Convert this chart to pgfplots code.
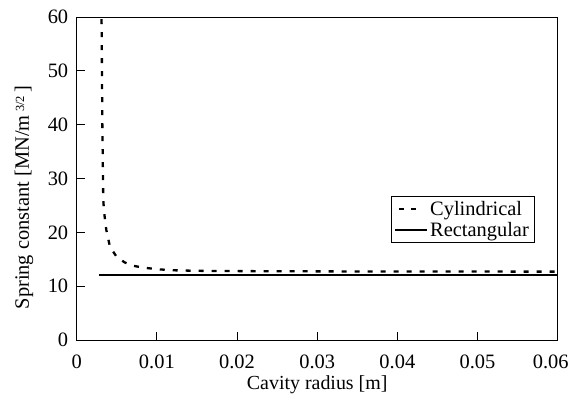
\documentclass[border=0pt]{standalone}
\usepackage{pgfplots}
\pgfplotsset{compat=1.18}
\usepackage{fontspec}
\setmainfont{Liberation Serif}
\begin{document}
\begin{tikzpicture}
\begin{axis}[
  scale only axis,
  width=481bp, height=323bp,
  xmin=0, xmax=0.06, ymin=0, ymax=60,
  xtick={0,0.01,0.02,0.03,0.04,0.05,0.06},
  xticklabels={0,0.01,0.02,0.03,0.04,0.05,\hspace*{-14bp}0.06},
  ytick={0,10,20,30,40,50,60},
  scaled x ticks=false,
  tick align=inside,
  xtick pos=left, ytick pos=left,
  major tick length=8bp,
  axis line style={line width=0.9bp},
  tick style={line width=0.8bp, black},
  /pgf/number format/assume math mode=true,
  tick label style={font=\fontsize{20.5}{24}\selectfont},
  xticklabel style={anchor=center, yshift=-22bp},
  yticklabel style={anchor=east, xshift=-5bp},
  xlabel={Cavity radius [m]},
  xlabel style={font=\fontsize{20}{24}\selectfont, at={(axis description cs:0.5,-0.139)}, anchor=center},
  ylabel={Spring constant [MN/m\,\raisebox{0.5ex}{\fontsize{12.5}{14}\selectfont 3/2}\,]},
  ylabel style={font=\fontsize{20.5}{24}\selectfont, at={(axis description cs:-0.1096,0.441)}, anchor=center},
  legend style={at={(0.951,0.446)}, anchor=north east, font=\fontsize{20.5}{24}\selectfont, draw=black, line width=0.6bp, inner sep=3bp, row sep=1bp},
  legend cell align=left,
  clip=true,
]
\addplot[black, line width=2.3bp, dash pattern=on 5bp off 8bp,
  legend image code/.code={\draw[black, line width=2.3bp] (4bp,0bp) -- (9bp,0bp) (16bp,0bp) -- (21bp,0bp);}] coordinates {
(0.00308,62) (0.00310,60) (0.00315,50) (0.00320,40) (0.00328,30) (0.00331,26)
(0.00344,23.5) (0.00370,20.4) (0.00415,17.3) (0.0050,15.4) (0.0060,14.4)
(0.0070,13.8) (0.0083,13.45) (0.010,13.15) (0.012,12.95) (0.015,12.85)
(0.020,12.8) (0.030,12.75) (0.040,12.72) (0.060,12.7)
};
\addlegendentry{Cylindrical}
\addplot[black, line width=2bp,
  legend image code/.code={\draw[black, line width=2bp] (0bp,0bp) -- (32bp,0bp);}] coordinates {(0.00278,12.15) (0.060,12.15)};
\addlegendentry{Rectangular}
\end{axis}
\pgfresetboundingbox
\path[use as bounding box] (current axis.south west) ++(-76.7bp,-62bp) rectangle ++(570bp,402bp);
\end{tikzpicture}
\end{document}
